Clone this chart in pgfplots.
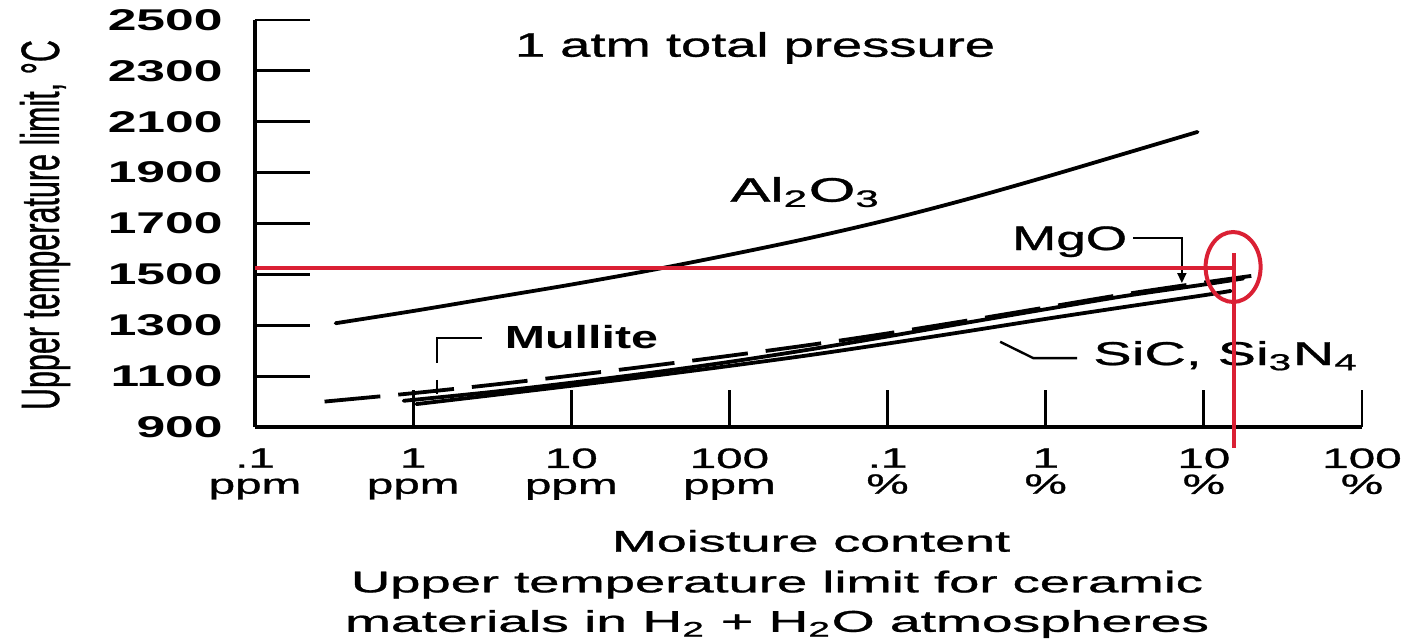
\documentclass[border=0pt]{standalone}
\usepackage{pgfplots}
\pgfplotsset{compat=1.18}
\usetikzlibrary{arrows.meta}
\usepackage{fontspec}
\setmainfont{Liberation Sans}
\newfontfamily\med{Liberation Sans}[FakeBold=0.8]
\definecolor{annot}{RGB}{218,32,52}
\newcommand{\Y}[1]{\scalebox{1.72}[1]{\bfseries #1}}
\newcommand{\X}[1]{\scalebox{1.7}[1]{#1}}
\newcommand{\RW}[2]{\resizebox{#1}{\height}{#2}}
\begin{document}
\begin{tikzpicture}
\useasboundingbox (-127.5pt,-105.5pt) rectangle (577pt,213.5pt);
\begin{axis}[
  at={(0,0)}, anchor=south west,
  scale only axis, width=553.5pt, height=203.5pt,
  xmin=-7, xmax=0, ymin=900, ymax=2500,
  axis x line=bottom, axis y line=left,
  axis line style={-, line width=2pt},
  clip=false,
  xtick={-7,-6,-5,-4,-3,-2,-1,0},
  xticklabels={{\X{.1}\\\X{ppm}},{\X{1}\\\X{ppm}},{\X{10}\\\X{ppm}},{\X{100}\\\X{ppm}},{\X{.1}\\\X{\%}},{\X{1}\\\X{\%}},{\X{10}\\\X{\%}},{\X{100}\\\X{\%}}},
  ytick={900,1100,1300,1500,1700,1900,2100,2300,2500},
  yticklabels={\Y{900},\Y{1100},\Y{1300},\Y{1500},\Y{1700},\Y{1900},\Y{2100},\Y{2300},\Y{2500}},
  tick align=inside,
  xtick style={line width=1.4pt, black, /pgfplots/major tick length=18.5pt},
  ytick style={line width=1.4pt, black, /pgfplots/major tick length=27.5pt},
  xticklabel style={anchor=north, inner sep=0pt, yshift=-10.5pt, align=center, font=\fontsize{14}{13}\selectfont\med},
  yticklabel style={anchor=east, inner sep=0pt, xshift=-16pt, font=\fontsize{15}{17}\selectfont},
]
% Al2O3
\addplot[line width=1.9pt, line cap=round, smooth] coordinates {
(-6.49,1308) (-6.0,1356) (-5.5,1408) (-5.0,1460) (-4.5,1516) (-4.0,1577)
(-3.5,1642) (-3.0,1714) (-2.5,1795) (-2.0,1883) (-1.5,1975) (-1.04,2060)};
% MgO
\addplot[line width=1.9pt, line cap=round, smooth] coordinates {
(-6.06,1003) (-5.5,1038) (-5.0,1074) (-4.5,1113) (-4.0,1156) (-3.5,1204)
(-3.0,1256) (-2.5,1310) (-2.0,1363) (-1.5,1415) (-1.0,1460) (-0.75,1484)};
% SiC, Si3N4
\addplot[line width=1.9pt, line cap=round, smooth] coordinates {
(-5.98,990) (-5.5,1025) (-5.0,1062) (-4.5,1100) (-4.0,1140) (-3.5,1182)
(-3.0,1228) (-2.5,1276) (-2.0,1325) (-1.5,1372) (-1.0,1418) (-0.83,1435)};
% Mullite (dashed)
\addplot[line width=1.9pt, dash pattern=on 28pt off 9pt, smooth] coordinates {
(-6.56,1000) (-6.0,1033) (-5.5,1066) (-5.0,1102) (-4.5,1140) (-4.0,1180)
(-3.5,1222) (-3.0,1268) (-2.5,1318) (-2.0,1370) (-1.5,1422) (-1.0,1468) (-0.7,1494)};

% labels
\node[anchor=base, inner sep=0pt, font=\fontsize{17}{20}\selectfont\med] at (axis cs:-3.838,2355.7) {\RW{240pt}{1 atm total pressure}};
\node[anchor=base west, inner sep=0pt, font=\fontsize{17}{20}\selectfont\med] at (axis cs:-3.996,1785.7) {\RW{75pt}{Al\textsubscript{2}O\textsubscript{3}}};
\node[anchor=base west, inner sep=0pt, font=\fontsize{17}{20}\selectfont\med] at (axis cs:-2.215,1595.8) {\RW{57.5pt}{MgO}};
\node[anchor=base west, inner sep=0pt, font=\fontsize{16}{19}\selectfont\bfseries] at (axis cs:-5.422,1209.4) {\RW{76.5pt}{Mullite}};
\node[anchor=base west, inner sep=0pt, font=\fontsize{16.5}{19}\selectfont\med] at (axis cs:-1.701,1143.7) {\RW{132.5pt}{SiC, Si\textsubscript{3}N\textsubscript{4}}};
\node[anchor=base, inner sep=0pt, font=\fontsize{15}{18}\selectfont\med] at (axis cs:-3.484,410) {\RW{199pt}{Moisture content}};
\node[anchor=base, inner sep=0pt, font=\fontsize{15}{18}\selectfont\med] at (axis cs:-3.699,250) {\RW{426pt}{Upper temperature limit for ceramic}};
\node[anchor=base, inner sep=0pt, font=\fontsize{15}{18}\selectfont\med] at (axis cs:-3.699,95) {\RW{432pt}{materials in H\textsubscript{2} + H\textsubscript{2}O atmospheres}};
\node[rotate=90, inner sep=0pt, font=\fontsize{15}{18}\selectfont\med] at (axis cs:-8.328,1694) {\resizebox{185pt}{1.8\height}{Upper temperature limit, °C}};

% leaders
\draw[line width=1pt, -{Triangle[length=5pt,width=4.5pt]}] (axis cs:-1.447,1642) -- (axis cs:-1.139,1642) -- (axis cs:-1.139,1466);
\draw[line width=1.2pt] (axis cs:-2.288,1235) -- (axis cs:-2.079,1171) -- (axis cs:-1.801,1171);
\draw[line width=1.2pt] (axis cs:-5.566,1249) -- (axis cs:-5.851,1249) -- (axis cs:-5.851,1150);
\draw[line width=1.2pt] (axis cs:-5.851,1085) -- (axis cs:-5.851,1030);

% red annotation
\draw[annot, line width=2pt] (axis cs:-7,1524) -- (axis cs:-0.812,1524);
\draw[annot, line width=2pt] (axis cs:-0.812,1583) -- (axis cs:-0.812,817);
\draw[annot, line width=2pt] (axis cs:-0.815,1529) ellipse [x radius=13.75pt, y radius=17.5pt];
\end{axis}
\end{tikzpicture}
\end{document}
